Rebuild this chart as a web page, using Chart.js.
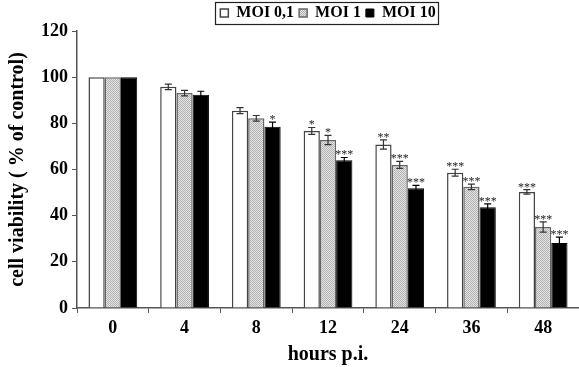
<!DOCTYPE html>
<html>
<head>
<meta charset="utf-8">
<script src="https://cdn.jsdelivr.net/npm/chart.js@4.4.0/dist/chart.umd.min.js"></script>
<style>
    body { margin: 0; background: #fff; }
    #wrap { width: 579px; height: 367px; position: relative; }
</style>
</head>
<body>
<div id="wrap"><canvas id="chart"></canvas></div>
<script>
// Data
const hours = ['0', '4', '8', '12', '24', '36', '48'];
const moi01 = [100, 95.8, 85.5, 76.7, 70.8, 58.6, 50.3];
const moi1 = [100, 93.1, 82.2, 72.8, 62.0, 52.5, 35.1];
const moi10 = [100, 92.4, 78.5, 64.0, 51.9, 43.6, 28.2];
const err01 = [0, 1.2, 1.3, 1.5, 2.0, 1.5, 1.0];
const err1 = [0, 1.2, 1.2, 2.0, 1.5, 1.2, 2.2];
const err10 = [0, 1.5, 2.0, 1.2, 1.2, 1.5, 2.5];
const stars01 = ['', '', '', '*', '**', '***', '***'];
const stars1 = ['', '', '', '*', '***', '***', '***'];
const stars10 = ['', '', '*', '***', '***', '***', '***'];
const yTicks = [0, 20, 40, 60, 80, 100, 120];

const serif = "'Liberation Serif', 'Times New Roman', serif";

// Stippled grey fill for the middle series
function makePattern() {
    const c = document.createElement('canvas');
    c.width = 2;
    c.height = 2;
    const g = c.getContext('2d');
    g.fillStyle = '#e6e6e6';
    g.fillRect(0, 0, 2, 2);
    g.fillStyle = '#b0b0b0';
    g.fillRect(0, 0, 1, 1);
    g.fillRect(1, 1, 1, 1);
    return g.createPattern(c, 'repeat');
}

// Error bars and significance stars
const errorBarPlugin = {
    id: 'errorBars',
    afterDatasetsDraw(chart) {
        const ctx = chart.ctx;
        const y = chart.scales.y;
        chart.data.datasets.forEach((ds, i) => {
            const meta = chart.getDatasetMeta(i);
            meta.data.forEach((bar, j) => {
                const v = ds.data[j];
                const e = ds.errors[j];
                const top = y.getPixelForValue(v + e);
                if (e > 0) {
                    const bot = y.getPixelForValue(v - e);
                    ctx.save();
                    ctx.strokeStyle = i === 2 ? '#000' : '#333';
                    ctx.lineWidth = 1.2;
                    ctx.beginPath();
                    ctx.moveTo(bar.x, top);
                    ctx.lineTo(bar.x, bot);
                    ctx.moveTo(bar.x - 3.5, top);
                    ctx.lineTo(bar.x + 3.5, top);
                    if (i !== 2) {
                        ctx.moveTo(bar.x - 3.5, bot);
                        ctx.lineTo(bar.x + 3.5, bot);
                    }
                    ctx.stroke();
                    ctx.restore();
                }
                const s = ds.stars[j];
                if (s) {
                    ctx.save();
                    ctx.fillStyle = '#222';
                    ctx.font = '12px ' + serif;
                    ctx.textAlign = 'center';
                    ctx.textBaseline = 'alphabetic';
                    ctx.fillText(s, bar.x, top + 1);
                    ctx.restore();
                }
            });
        });
    }
};

// Frame around the legend
const legendFramePlugin = {
    id: 'legendFrame',
    afterDraw(chart) {
        const boxes = chart.legend && chart.legend.legendHitBoxes;
        if (!boxes || !boxes.length) return;
        const left = Math.min(...boxes.map(b => b.left));
        const right = Math.max(...boxes.map(b => b.left + b.width));
        const top = Math.min(...boxes.map(b => b.top));
        const bottom = Math.max(...boxes.map(b => b.top + b.height));
        const ctx = chart.ctx;
        ctx.save();
        ctx.strokeStyle = '#222';
        ctx.lineWidth = 1.2;
        ctx.strokeRect(Math.round(left - 5) + 0.5, Math.round(top - 3) + 0.5,
            Math.round(right - left + 8), Math.round(bottom - top + 6));
        ctx.restore();
    }
};

document.addEventListener('DOMContentLoaded', () => {
    const ctx = document.getElementById('chart').getContext('2d');
    new Chart(ctx, {
        type: 'bar',
        data: {
            labels: hours,
            datasets: [{
                label: 'MOI 0,1',
                data: moi01,
                errors: err01,
                stars: stars01,
                backgroundColor: '#ffffff',
                borderColor: '#444',
                borderWidth: 1.5
            }, {
                label: 'MOI 1',
                data: moi1,
                errors: err1,
                stars: stars1,
                backgroundColor: makePattern(),
                borderColor: '#666',
                borderWidth: 1.5
            }, {
                label: 'MOI 10',
                data: moi10,
                errors: err10,
                stars: stars10,
                backgroundColor: '#000000',
                borderColor: '#000000',
                borderWidth: 1
            }]
        },
        options: {
            responsive: true,
            maintainAspectRatio: false,
            animation: false,
            categoryPercentage: 0.68,
            barPercentage: 1.0,
            layout: { padding: { top: 0, right: 0, left: 0, bottom: 0 } },
            plugins: {
                tooltip: { enabled: false },
                legend: {
                    display: true,
                    position: 'top',
                    fullSize: false,
                    labels: {
                        font: { family: serif, size: 16, weight: 'bold' },
                        color: '#000',
                        boxWidth: 8,
                        boxHeight: 8,
                        padding: 5
                    }
                }
            },
            scales: {
                x: {
                    grid: {
                        drawOnChartArea: false,
                        drawTicks: true,
                        tickLength: 5,
                        color: '#555'
                    },
                    border: { color: '#555', width: 1.5 },
                    ticks: {
                        font: { family: serif, size: 18, weight: 'bold' },
                        color: '#000',
                        padding: 5
                    },
                    title: {
                        display: true,
                        text: 'hours p.i.',
                        font: { family: serif, size: 20, weight: 'bold' },
                        color: '#000',
                        padding: { top: 0, bottom: 0 }
                    },
                    afterFit: s => { s.height = 59; }
                },
                y: {
                    min: 0,
                    max: 120,
                    afterBuildTicks: s => { s.ticks = yTicks.map(v => ({ value: v })); },
                    grid: {
                        drawOnChartArea: false,
                        drawTicks: true,
                        tickLength: 5,
                        color: '#555'
                    },
                    border: { color: '#555', width: 1.5 },
                    ticks: {
                        font: { family: serif, size: 18, weight: 'bold' },
                        color: '#000',
                        padding: 4
                    },
                    title: {
                        display: true,
                        text: 'cell viability ( % of control)',
                        font: { family: serif, size: 20, weight: 'bold' },
                        color: '#000',
                        padding: { top: 6, bottom: 0 }
                    },
                    afterFit: s => { s.width = 77; }
                }
            }
        },
        plugins: [errorBarPlugin, legendFramePlugin]
    });
});
</script>
</body>
</html>
